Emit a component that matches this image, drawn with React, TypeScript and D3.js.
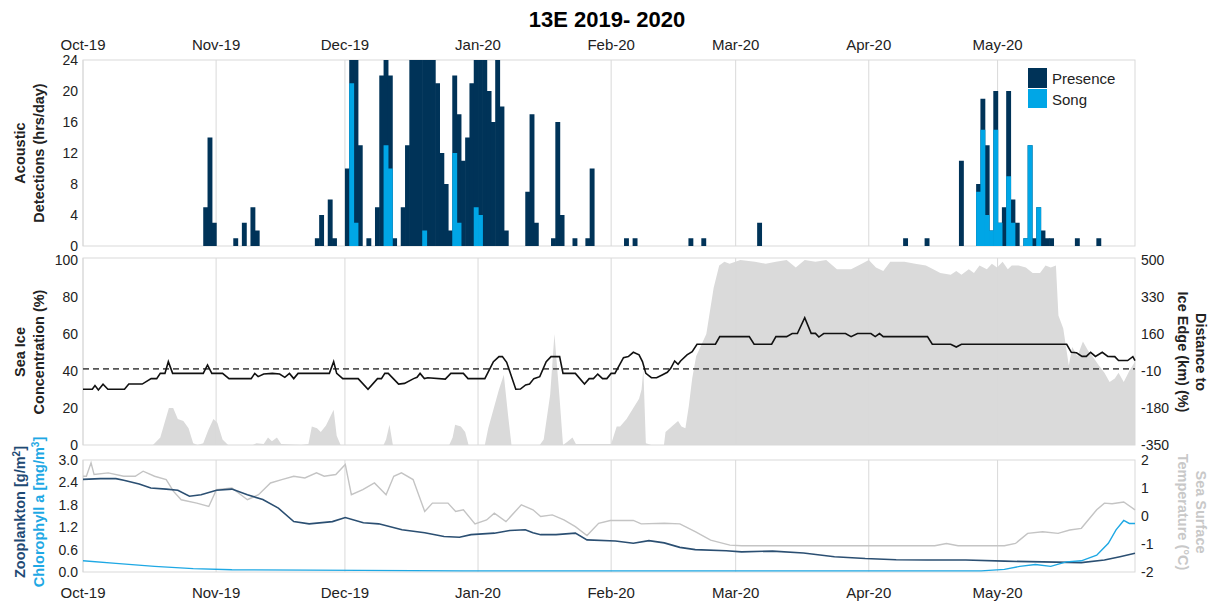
import * as d3 from 'd3';

// day offsets from 1 Oct 2019
const SEASON_START = new Date(2019, 9, 1);
const SEASON_END = new Date(2020, 5, 2);
const LAST_MONTH = new Date(2020, 4, 1);

// [day, presence hrs, song hrs]
const detections: [number, number, number][] = [
  [28, 5, 0], [29, 14, 0], [30, 3, 0], [35, 1, 0], [37, 3, 0], [39, 5, 0], [40, 2, 0],
  [54, 1, 0], [55, 4, 0], [57, 6, 0], [58, 1, 0], [61, 10, 0], [62, 24, 21], [63, 24, 3],
  [64, 13, 0], [66, 1, 0], [68, 5, 0], [69, 22, 0], [70, 24, 13], [71, 22, 10], [72, 1, 0],
  [74, 5, 0], [75, 13, 0], [76, 24, 0], [77, 24, 0], [78, 24, 0], [79, 24, 2], [80, 24, 0],
  [81, 24, 0], [82, 21, 0], [83, 12, 0], [84, 8, 0], [85, 2, 0], [86, 22, 12], [87, 17, 3],
  [88, 11, 0], [89, 14, 0], [90, 21, 0], [91, 24, 5], [92, 24, 4], [93, 24, 0], [94, 20, 0],
  [95, 16, 0], [96, 24, 0], [97, 18, 0], [98, 2, 0], [103, 7, 0], [104, 17, 0], [105, 3, 0],
  [109, 1, 0], [110, 16, 0], [111, 4, 0], [114, 1, 0], [117, 1, 0], [118, 10, 0],
  [126, 1, 0], [128, 1, 0], [141, 1, 0], [144, 1, 0], [157, 3, 0], [191, 1, 0], [196, 1, 0],
  [204, 11, 0], [208, 8, 7], [209, 19, 15], [210, 13, 4], [211, 2, 2], [212, 20, 15],
  [213, 3, 3], [214, 5, 0], [215, 20, 9], [216, 6, 3], [217, 3, 0], [219, 1, 1], [220, 13, 13],
  [221, 1, 0], [222, 5, 5], [223, 2, 0], [224, 1, 0], [225, 1, 0], [231, 1, 0], [236, 1, 0],
];

// sea ice concentration (%)
const seaIce: [number, number][] = [
  [0, 0], [16.3, 0], [18, 4], [20, 20], [21, 20], [22.1, 14], [23.4, 13], [24.6, 9], [25.7, 1],
  [26.7, 0], [28, 1], [29.2, 8], [30.4, 14], [31.3, 12], [32.5, 3], [33.8, 0], [39.6, 0],
  [40.4, 1], [42.1, 0.5], [43.1, 4], [44, 2], [45.2, 4], [46.2, 0.5], [50.8, 0], [52.5, 0.5],
  [53.3, 10], [54.5, 9], [55.4, 7], [56.6, 10.5], [58.4, 19], [59.1, 5], [60, 0], [70, 0],
  [70.6, 3], [71.4, 11], [72.2, 0], [85.3, 0], [86.1, 4], [86.7, 11], [88, 10], [89, 7],
  [89.8, 0], [93.6, 0], [94.4, 9], [96.9, 30], [98, 38], [99, 16], [99.8, 0], [106.4, 0],
  [107.3, 3], [108.8, 27], [109.8, 60], [111, 25], [111.8, 0], [112.7, 1.5], [114, 4],
  [114.8, 0.5], [123, 0.5], [124.3, 10], [125.1, 10], [126.6, 14], [128.2, 20], [129.5, 25],
  [130.1, 30], [130.5, 41], [131.1, 1], [132.4, 0], [135.3, 0], [135.7, 7], [137.4, 10.5],
  [138.6, 13], [139.4, 10], [140.3, 9], [141.1, 21], [141.9, 36], [142.8, 48], [145.2, 60],
  [146.9, 85], [148.2, 97], [149.4, 99], [150.6, 98], [153.1, 100], [156.5, 99], [159, 98],
  [161.4, 99], [163.9, 100], [166, 96], [168.1, 100], [170.6, 99], [173.1, 100], [175.6, 95],
  [178.9, 95], [181.4, 98], [183, 100], [184.7, 96], [186.4, 94], [188, 99], [191.3, 99],
  [193.8, 98], [196.3, 97], [198, 95], [199.7, 93], [202.1, 92], [203.4, 94], [204.6, 92],
  [206.3, 95], [207.5, 93], [208.8, 97], [210.5, 95], [211.7, 98], [212.9, 96], [214.2, 99],
  [215.4, 95], [216.3, 97], [217.9, 97], [219.6, 96], [221.2, 93], [222.9, 93], [224.2, 97],
  [225.4, 96], [226.6, 97], [227.2, 70], [228.3, 63], [229.6, 43], [230.4, 53], [231.6, 48],
  [232.9, 56], [234.1, 51], [235.4, 47], [236.6, 43], [237.9, 39], [239.1, 34], [240.3, 36],
  [241.2, 39], [242.4, 34], [243.7, 40], [245, 45],
];

// distance to ice edge (km)
const iceEdge: [number, number][] = [
  [0, -94], [2.2, -94], [2.8, -77], [3.6, -97], [4.7, -71], [5.8, -94], [9.7, -94], [10.7, -70],
  [13.8, -70], [15.9, -45], [17.2, -45], [18, -21], [19.1, -21], [19.9, 33], [20.9, -21],
  [28, -21], [29, 18], [30, -21], [32.5, -21], [34, -45], [39.2, -45], [40, -21], [40.8, -36],
  [42.1, -24], [44.1, -21], [45.8, -24], [47, -39], [48.1, -21], [49.1, -45], [50.1, -21],
  [57.4, -21], [58.4, 33], [59.1, -21], [60.5, -45], [64.1, -45], [66.4, -94], [68.6, -45],
  [69.5, -45], [70.3, -21], [71.1, -21], [73.5, -70], [74.9, -67], [77, -45], [77.8, -39],
  [78.5, -21], [79.5, -45], [80.3, -41], [84.4, -47], [85.7, -21], [88.6, -21], [89.7, -45],
  [93.6, -45], [95.6, 33], [96.9, 56], [97.7, 56], [98.7, 30], [100.8, -94], [101.9, -93],
  [103.1, -74], [104, -70], [105, -45], [106.4, -36], [107.9, 33], [109, 56], [111, 56],
  [111.8, -21], [114.7, -21], [116.8, -70], [117.9, -45], [118.9, -45], [119.9, -24],
  [121, -45], [122, -45], [123, -21], [123.9, -21], [125.9, 51], [127, 56], [128.2, 76],
  [129.5, 64], [130.3, 33], [131.1, -21], [132.4, -41], [133.6, -41], [134.9, -28],
  [136.1, -16], [136.9, 2], [137.8, 36], [138.6, 21], [139.2, 36], [140.7, 64], [141.9, 79],
  [143, 113], [147.3, 113], [148.3, 148], [155.2, 148], [156.3, 113], [160.4, 113],
  [161.4, 148], [163.9, 148], [165.2, 162], [166.4, 162], [168.1, 235], [169.6, 163],
  [170.6, 163], [171.4, 146], [172.5, 162], [177.6, 162], [178.9, 148], [180.4, 162],
  [183.5, 162], [184.5, 148], [185.5, 162], [186.4, 148], [196.7, 148], [197.8, 113],
  [202.1, 113], [203.4, 100], [204.6, 113], [229.1, 113], [230.2, 76], [231.4, 74],
  [232.7, 57], [233.7, 57], [234.7, 76], [235.8, 57], [237.4, 76], [238.7, 57], [240.3, 56],
  [241.2, 38], [243.3, 38], [244.5, 56], [245, 38],
];

// zooplankton (g/m2)
const zooplankton: [number, number][] = [
  [0, 2.48], [4.1, 2.5], [7.7, 2.5], [9.5, 2.46], [13.1, 2.36], [15.8, 2.25], [19.4, 2.22],
  [22.1, 2.19], [24.8, 2.03], [27.5, 2.07], [31.1, 2.19], [34.7, 2.22], [38.3, 2.07],
  [41.9, 1.94], [45.5, 1.71], [49.1, 1.35], [52.7, 1.29], [58.1, 1.35], [61.1, 1.46],
  [65.3, 1.32], [68.9, 1.29], [74.3, 1.13], [79.6, 1.05], [84.1, 0.95], [87.7, 0.93],
  [90.4, 1.0], [95.8, 1.04], [99.4, 1.11], [103, 1.13], [104.8, 1.05], [106.6, 1.0],
  [110.2, 1.0], [114.7, 1.04], [117.4, 0.86], [124, 0.83], [128.2, 0.77], [131.8, 0.84],
  [135.4, 0.78], [139, 0.66], [142.6, 0.6], [149.8, 0.57], [153.4, 0.54], [160.6, 0.56],
  [167.8, 0.51], [175, 0.41], [182.2, 0.36], [189.4, 0.33], [196.6, 0.32], [205.6, 0.32],
  [214.6, 0.29], [223.5, 0.27], [232.5, 0.25], [237.9, 0.32], [241.5, 0.41], [245, 0.5],
];

// chlorophyll a (mg/m3)
const chlorophyll: [number, number][] = [
  [0, 0.3], [7.7, 0.23], [16.7, 0.15], [25.7, 0.09], [34.7, 0.06], [52.7, 0.05], [88.6, 0.03],
  [160.6, 0.03], [209.2, 0.03], [214.6, 0.07], [218.2, 0.15], [221.8, 0.2], [225.4, 0.15],
  [229, 0.27], [232.5, 0.3], [236.1, 0.45], [238.8, 0.77], [240.6, 1.13], [242.4, 1.38],
  [243.7, 1.3], [245, 1.3],
];

// sea surface temperature (°C)
const sst: [number, number][] = [
  [0, 1.42], [0.8, 1.42], [1.9, 1.9], [2.6, 1.48], [5.9, 1.54], [9.5, 1.42], [12.2, 1.42],
  [14, 1.6], [16.7, 1.42], [19.4, 1.3], [21.1, 0.88], [22.9, 0.58], [26.5, 0.46], [29.3, 0.34],
  [31.1, 0.94], [34.7, 1.0], [38.3, 0.58], [40.9, 0.76], [43.7, 1.18], [46.3, 1.3],
  [49.1, 1.42], [51.7, 1.36], [54.4, 1.54], [56.2, 1.42], [58.9, 1.48], [61.1, 1.84],
  [62.5, 0.76], [65.2, 0.94], [67.9, 1.18], [70.6, 0.76], [72.4, 1.42], [74.2, 1.54],
  [76.9, 1.3], [79.6, 0.16], [81.4, 0.46], [85, 0.46], [86.8, 0.16], [88.6, 0.22],
  [91.3, -0.28], [94, -0.14], [95.8, 0.1], [98.5, -0.2], [102.1, 0.4], [104.8, 0.22],
  [106.6, -0.02], [109.3, 0.04], [112, -0.14], [114.7, -0.38], [117.4, -0.7], [120.1, -0.26],
  [122.8, -0.16], [128.2, -0.16], [130, -0.28], [135.4, -0.26], [139, -0.28], [142.6, -0.56],
  [146.2, -0.86], [150.7, -1.04], [153.4, -1.06], [169.6, -1.06], [187.6, -1.06],
  [198.4, -1.06], [201.1, -0.98], [203.8, -1.06], [214.6, -1.06], [217.2, -0.98], [220, -0.62],
  [223.5, -0.56], [227.1, -0.62], [229.8, -0.5], [232.5, -0.44], [236.1, 0.22], [237.9, 0.46],
  [239.7, 0.44], [242.4, 0.5], [245, 0.22],
];

const hoursTicks = [0, 4, 8, 12, 16, 20, 24];
const iceTicks = [0, 20, 40, 60, 80, 100];
const edgeTicks = [500, 330, 160, -10, -180, -350];
const bioTicks = [0, 0.6, 1.2, 1.8, 2.4, 3.0];
const sstTicks = [2, 1, 0, -1, -2];

const NAVY = '#003358';
const CYAN = '#00a6e6';
const GRID = '#d9d9d9';
const AREA = '#dadada';
const TICK_FONT = "'Liberation Sans Narrow', 'Arial Narrow', sans-serif";
const FONT = "'Liberation Sans', Arial, sans-serif";

const day = (d: number) => d3.timeHour.offset(SEASON_START, d * 24);

export default function App() {
  const left = 83;
  const right = 1135;
  const x = d3.scaleTime().domain([SEASON_START, SEASON_END]).range([left, right]);
  const months = d3.timeMonth.range(SEASON_START, d3.timeDay.offset(LAST_MONTH, 1));
  const fmt = d3.timeFormat('%b-%y');

  const yHrs = d3.scaleLinear().domain([0, 24]).range([246, 60]);
  const yIce = d3.scaleLinear().domain([0, 100]).range([445, 260]);
  const yKm = d3.scaleLinear().domain([-350, 500]).range([445, 260]);
  const yBio = d3.scaleLinear().domain([0, 3]).range([572, 460]);
  const yT = d3.scaleLinear().domain([-2, 2]).range([572, 460]);

  const barW = x(day(1)) - x(day(0));

  const iceArea = d3.area<[number, number]>()
    .x((d) => x(day(d[0])))
    .y0(yIce(0))
    .y1((d) => yIce(d[1]));
  const lineOf = (y: d3.ScaleLinear<number, number>) =>
    d3.line<[number, number]>().x((d) => x(day(d[0]))).y((d) => y(d[1]));

  const panel = (top: number, bottom: number) => (
    <g>
      {months.map((m) => (
        <line key={+m} x1={x(m)} x2={x(m)} y1={top} y2={bottom} stroke={GRID} strokeWidth={1} />
      ))}
      <rect x={left} y={top} width={right - left} height={bottom - top} fill="none" stroke={GRID} />
    </g>
  );

  const vTitle = (cx: number, cy: number, text: any, fill = '#222', rot = -90) => (
    <text transform={`translate(${cx},${cy}) rotate(${rot})`} textAnchor="middle" fontFamily={FONT}
      fontWeight="bold" fontSize={14.5} fill={fill}>{text}</text>
  );

  return (
    <svg width={1213} height={606} style={{ position: 'absolute', left: 0, top: 0, background: '#fff' }}>
      <text x={607} y={27} textAnchor="middle" fontFamily={FONT} fontWeight="bold" fontSize={22}>13E 2019- 2020</text>

      {/* top panel */}
      {panel(60, 246)}
      {months.map((m) => (
        <text key={'t' + +m} x={x(m)} y={50} textAnchor="middle" fontFamily={FONT} fontSize={15} fill="#222">{fmt(m)}</text>
      ))}
      {hoursTicks.map((t) => (
        <text key={t} x={78} y={yHrs(t) + 5} textAnchor="end" fontFamily={TICK_FONT} fontSize={14} fill="#222">{t}</text>
      ))}
      {detections.map(([d, p]) => (
        <rect key={'p' + d} x={x(day(d))} y={yHrs(p)} width={barW + 0.6} height={yHrs(0) - yHrs(p)} fill={NAVY} />
      ))}
      {detections.filter((r) => r[2] > 0).map(([d, , s]) => (
        <rect key={'s' + d} x={x(day(d))} y={yHrs(s)} width={barW + 0.6} height={yHrs(0) - yHrs(s)} fill={CYAN} />
      ))}
      <rect x={1028} y={68} width={19} height={20} fill={NAVY} />
      <rect x={1028} y={89} width={19} height={19} fill={CYAN} />
      <text x={1052} y={84} fontFamily={FONT} fontSize={15} fill="#222">Presence</text>
      <text x={1052} y={105} fontFamily={FONT} fontSize={15} fill="#222">Song</text>
      {vTitle(25, 153, 'Acoustic')}
      {vTitle(44, 153, 'Detections (hrs/day)')}

      {/* middle panel */}
      <path d={iceArea(seaIce) || ''} fill={AREA} />
      {panel(258, 445)}
      <line x1={left} x2={right} y1={yKm(0)} y2={yKm(0)} stroke="#555" strokeWidth={1.8} strokeDasharray="6,4" />
      <path d={lineOf(yKm)(iceEdge) || ''} fill="none" stroke="#111" strokeWidth={1.6} />
      {iceTicks.map((t) => (
        <text key={t} x={78} y={yIce(t) + 5} textAnchor="end" fontFamily={TICK_FONT} fontSize={14} fill="#222">{t}</text>
      ))}
      {edgeTicks.map((t) => (
        <text key={t} x={1141} y={yKm(t) + 5} fontFamily={TICK_FONT} fontSize={14} fill="#222">{t}</text>
      ))}
      {vTitle(25, 352, 'Sea Ice')}
      {vTitle(44, 352, 'Concentration  (%)')}
      {vTitle(1196, 352, 'Distance to', '#222', 90)}
      {vTitle(1178, 352, 'Ice Edge (km) (%)', '#222', 90)}

      {/* bottom panel */}
      {panel(460, 572)}
      <path d={lineOf(yT)(sst) || ''} fill="none" stroke="#c4c4c4" strokeWidth={1.4} />
      <path d={lineOf(yBio)(zooplankton) || ''} fill="none" stroke="#2b4f72" strokeWidth={1.6} />
      <path d={lineOf(yBio)(chlorophyll) || ''} fill="none" stroke="#1ea8e4" strokeWidth={1.4} />
      {bioTicks.map((t) => (
        <text key={t} x={78} y={yBio(t) + 5} textAnchor="end" fontFamily={TICK_FONT} fontSize={14} fill="#222">{t.toFixed(1)}</text>
      ))}
      {sstTicks.map((t) => (
        <text key={t} x={1141} y={yT(t) + 5} fontFamily={TICK_FONT} fontSize={14} fill="#222">{t}</text>
      ))}
      {months.map((m) => (
        <text key={'b' + +m} x={x(m)} y={598} textAnchor="middle" fontFamily={FONT} fontSize={15} fill="#222">{fmt(m)}</text>
      ))}
      {vTitle(25, 512, <>Zooplankton [g/m<tspan dy={-5} fontSize={10}>2</tspan><tspan dy={5}>]</tspan></>, '#1f4a74')}
      {vTitle(44, 512, <>Chlorophyll a [mg/m<tspan dy={-5} fontSize={10}>3</tspan><tspan dy={5}>]</tspan></>, '#1ea8e4')}
      {vTitle(1196, 512, 'Sea Surface', '#c8c8c8', 90)}
      {vTitle(1178, 512, 'Temperature  (°C)', '#c8c8c8', 90)}
    </svg>
  );
}
